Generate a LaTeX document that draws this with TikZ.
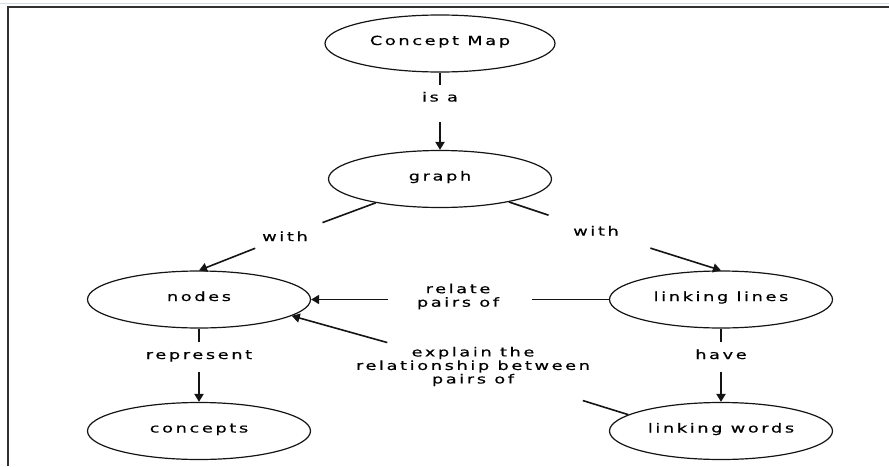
\documentclass[tikz,border=0pt]{standalone}
\usepackage{fontspec}
\newfontfamily\mapfont[FakeStretch=1.42,LetterSpace=21,FakeBold=0.6]{DejaVu Sans}
\usetikzlibrary{shapes.geometric,arrows.meta}
\definecolor{topline}{RGB}{214,221,232}
\definecolor{framec}{RGB}{50,50,50}
\definecolor{inkc}{RGB}{20,20,20}
\begin{document}
\begin{tikzpicture}[x=1pt,y=-1pt,
  concept/.style={ellipse, draw=inkc, line width=1.2pt, minimum width=223pt,
    minimum height=57pt, inner sep=0pt, text height=3pt, text depth=0pt,
    font=\mapfont\fontsize{12.5}{13.5}\selectfont},
  linklabel/.style={inner sep=0pt, text height=9pt, text depth=0pt,
    font=\mapfont\fontsize{12.5}{13.5}\selectfont},
  multilabel/.style={inner sep=0pt, align=center,
    font=\mapfont\fontsize{12.5}{13.5}\selectfont},
  conn/.style={line width=1.6pt, draw=inkc},
  vconn/.style={line width=2pt, draw=inkc},
  arr/.style={conn, -{Triangle[width=9pt,length=8pt]}},
  varr/.style={vconn, -{Triangle[width=9pt,length=8pt]}}]
\useasboundingbox (0,0) rectangle (889,466);
% frame
\draw[topline, line width=1pt] (0,3.5) -- (889,3.5);
\draw[framec, line width=2pt] (8,466) -- (8,7) -- (889,7);
% concepts
\node[concept, minimum width=230pt] (cmap) at (440,43.5) {\makebox[0pt]{Concept Map}};
\node[concept] (graph) at (440,179) {\makebox[0pt]{graph}};
\node[concept] (nodes) at (199,299.5) {\makebox[0pt]{nodes}};
\node[concept] (lines) at (721,299.5) {\makebox[0pt]{linking lines}};
\node[concept] (concepts) at (199,431) {\makebox[0pt]{concepts}};
\node[concept] (words) at (721,431) {\makebox[0pt]{linking words}};
% linking phrases
\node[linklabel] (isa) at (440,97) {is a};
\node[linklabel] (withL) at (285,236.5) {with};
\node[linklabel] (withR) at (596,231) {with};
\node[linklabel] (rep) at (199,354.5) {represent};
\node[linklabel] (have) at (721,354.5) {have};
\node[multilabel] (relate) at (458,296.5) {relate\\pairs of};
\node[multilabel] (explain) at (473,366.5) {explain the\\relationship between\\pairs of};
% connectors
\draw[vconn, shorten <=12pt] (isa.center) -- (cmap);
\draw[varr, shorten <=25pt] (isa.center) -- (graph);
\draw[conn, shorten <=40pt] (withL.center) -- (graph);
\draw[arr, shorten <=32pt] (withL.center) -- (nodes.north);
\draw[conn, shorten <=50pt] (withR.center) -- (graph);
\draw[arr, shorten <=57pt] (withR.center) -- (lines.north);
\draw[conn, shorten <=74pt] (relate |- lines) -- (lines);
\draw[arr, shorten <=70pt] (relate |- lines) -- (nodes);
\draw[conn, shorten <=115pt] (explain.center) -- (words.170);
\draw[arr, shorten <=89pt] (explain.center) -- (nodes.-10);
\draw[vconn, shorten <=13pt] (rep.center) -- (nodes);
\draw[varr, shorten <=17pt] (rep.center) -- (concepts);
\draw[vconn, shorten <=13pt] (have.center) -- (lines);
\draw[varr, shorten <=17pt] (have.center) -- (words);
\end{tikzpicture}
\end{document}
